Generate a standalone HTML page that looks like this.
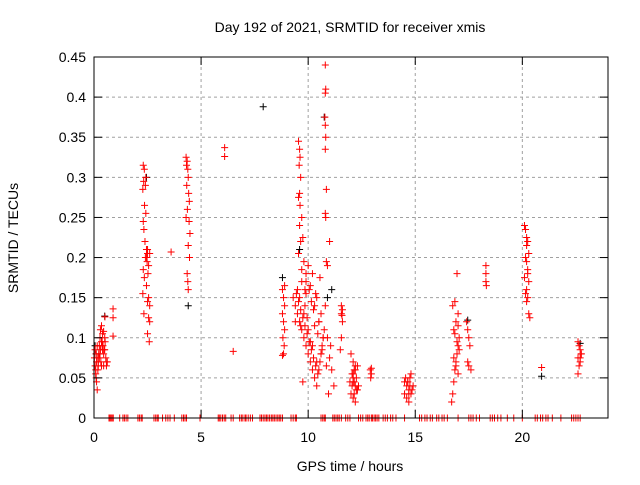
<!DOCTYPE html>
<html><head><meta charset="utf-8"><style>
body{margin:0;background:#fff}
svg text{font-family:"Liberation Sans",sans-serif;font-size:14px;fill:#000}
</style></head><body>
<svg id="chart" width="640" height="480" xmlns="http://www.w3.org/2000/svg">
<rect x="0" y="0" width="640" height="480" fill="#fff"/>
<g id="grid"></g>
<g id="marks"></g>
<g id="axes"></g>
<text x="350" y="32" text-anchor="middle">Day 192 of 2021, SRMTID for receiver xmis</text>
<text x="350" y="471" text-anchor="middle">GPS time / hours</text>
<text transform="translate(18,238) rotate(-90)" text-anchor="middle">SRMTID / TECUs</text>
</svg>
<script>
const xTicks=[0,5,10,15,20];
const yTicks=[0,0.05,0.1,0.15,0.2,0.25,0.3,0.35,0.4,0.45];
const yTickLabels=["0","0.05","0.1","0.15","0.2","0.25","0.3","0.35","0.4","0.45"];
const redT=[0.02,0.05,0.08,0.1,0.12,0.15,0.18,0.2,0.22,0.25,0.28,0.3,0.32,0.35,0.38,0.4,0.42,0.45,0.48,0.5,0.52,0.55,0.58,0.6,0.62,0.1,0.15,0.2,0.05,0.12,0.25,0.3,0.35,0.4,0.45,0.5,0.08,0.18,0.28,0.38,0.35,0.45,0.51,0.89,0.89,0.89,
2.3,2.35,2.32,2.4,2.28,2.36,2.42,2.3,2.33,2.38,2.45,2.5,2.4,2.48,2.55,2.3,2.52,2.35,2.45,2.28,2.55,2.5,2.6,2.33,2.55,2.6,2.5,2.58,2.6,2.45,2.5,2.42,3.6,
4.3,4.35,4.32,4.38,4.4,4.33,4.42,4.45,4.36,4.3,4.44,4.48,4.4,4.46,4.35,4.38,4.4,6.1,6.1,6.5,
8.8,8.85,8.9,8.8,8.85,8.9,8.82,8.88,8.85,8.8,8.9,
9.55,9.6,9.62,9.58,9.65,9.6,9.55,9.62,9.7,9.6,9.75,9.65,9.55,9.8,9.7,9.9,9.85,
9.3,9.4,9.5,9.6,9.7,9.8,9.9,10.0,10.1,10.2,10.3,10.4,10.5,10.6,10.7,9.45,9.55,9.65,9.75,9.85,9.95,10.05,10.15,10.25,10.35,10.45,10.55,10.65,10.75,9.5,9.7,9.9,10.1,10.3,10.5,10.7,9.6,9.8,10.0,10.2,10.4,10.6,9.4,9.65,9.85,10.05,10.25,10.45,10.65,10.85,9.75,9.95,10.15,10.35,10.55,10.0,10.2,10.4,10.6,10.3,10.5,10.1,9.9,10.8,10.9,11.0,11.1,11.2,10.95,11.05,
10.8,10.82,10.8,10.78,10.8,10.82,10.8,10.85,10.8,10.82,10.85,10.9,11.0,
11.55,11.6,11.55,11.58,11.6,11.55,11.5,
12.0,12.1,12.2,12.15,12.05,12.25,12.1,12.2,12.3,12.0,12.15,12.1,12.2,12.05,12.25,12.1,12.3,12.15,12.2,12.1,11.95,12.35,12.9,12.95,12.92,12.95,
14.5,14.6,14.7,14.8,14.55,14.65,14.75,14.85,14.6,14.7,14.8,14.5,14.9,14.65,14.75,14.7,
16.7,16.75,16.8,16.85,16.9,16.95,17.0,17.05,16.8,16.9,17.0,16.75,16.85,16.95,17.05,16.8,16.9,17.0,16.85,16.95,17.0,
17.4,17.45,17.5,17.55,17.45,17.5,17.6,18.3,18.3,18.3,18.32,
20.1,20.15,20.2,20.25,20.3,20.15,20.2,20.25,20.1,20.3,20.2,20.15,20.25,20.2,20.3,20.35,20.2,20.25,20.9,
22.6,22.65,22.7,22.75,22.6,22.7,22.65,22.75,22.7,22.6];
const redV=[0.075,0.065,0.055,0.05,0.045,0.035,0.06,0.07,0.08,0.09,0.1,0.085,0.07,0.065,0.095,0.105,0.09,0.08,0.085,0.1,0.095,0.075,0.065,0.07,0.07,0.08,0.09,0.065,0.085,0.07,0.075,0.11,0.095,0.085,0.065,0.085,0.06,0.075,0.08,0.09,0.115,0.108,0.126,0.136,0.125,0.102,
0.315,0.31,0.295,0.29,0.285,0.265,0.255,0.245,0.235,0.22,0.21,0.205,0.2,0.195,0.19,0.185,0.18,0.175,0.165,0.155,0.15,0.145,0.14,0.13,0.125,0.12,0.105,0.095,0.205,0.2,0.21,0.3,0.207,
0.325,0.32,0.315,0.31,0.3,0.29,0.28,0.27,0.26,0.25,0.245,0.23,0.215,0.2,0.18,0.17,0.16,0.337,0.326,0.083,
0.16,0.15,0.14,0.13,0.12,0.11,0.1,0.09,0.08,0.078,0.165,
0.345,0.335,0.325,0.315,0.3,0.28,0.275,0.265,0.25,0.24,0.225,0.22,0.205,0.195,0.185,0.17,0.16,
0.15,0.14,0.13,0.12,0.11,0.1,0.09,0.08,0.07,0.06,0.05,0.04,0.06,0.08,0.1,0.155,0.145,0.135,0.125,0.115,0.105,0.095,0.085,0.075,0.065,0.055,0.07,0.09,0.11,0.16,0.17,0.18,0.165,0.14,0.12,0.1,0.15,0.13,0.11,0.09,0.07,0.08,0.12,0.115,0.14,0.16,0.135,0.105,0.085,0.065,0.045,0.125,0.145,0.155,0.175,0.19,0.18,0.15,0.13,0.115,0.12,0.095,0.155,0.14,0.1,0.075,0.06,0.04,0.03,0.09,
0.44,0.41,0.405,0.375,0.365,0.35,0.335,0.285,0.255,0.25,0.195,0.19,0.22,
0.14,0.135,0.13,0.128,0.12,0.1,0.085,
0.08,0.07,0.065,0.06,0.055,0.05,0.045,0.04,0.035,0.03,0.045,0.055,0.06,0.04,0.035,0.05,0.065,0.03,0.02,0.025,0.045,0.04,0.06,0.055,0.05,0.062,
0.045,0.04,0.035,0.03,0.05,0.045,0.04,0.035,0.025,0.02,0.055,0.03,0.04,0.045,0.05,0.03,
0.02,0.03,0.045,0.06,0.07,0.08,0.09,0.1,0.11,0.12,0.13,0.14,0.105,0.095,0.085,0.075,0.065,0.055,0.145,0.18,0.115,
0.12,0.11,0.1,0.09,0.07,0.065,0.06,0.19,0.18,0.17,0.165,
0.24,0.235,0.225,0.22,0.205,0.2,0.195,0.185,0.175,0.17,0.16,0.155,0.15,0.145,0.13,0.125,0.215,0.18,0.063,
0.095,0.09,0.085,0.08,0.075,0.07,0.065,0.08,0.075,0.055];
const blackT=[0.05,0.1,0.5,2.45,4.4,7.9,8.8,9.6,10.75,10.9,11.1,17.45,20.9,22.7];
const blackV=[0.09,0.08,0.127,0.3,0.14,0.388,0.175,0.21,0.375,0.15,0.16,0.122,0.052,0.093];
const zeroT=[0.7,0.75,0.8,0.85,0.9,1.2,1.35,1.42,1.5,1.58,2.05,2.12,2.2,2.25,2.8,2.88,2.95,3.0,3.2,3.35,3.45,3.55,3.75,4.1,4.18,4.25,4.32,4.95,5.8,5.85,5.92,6.0,6.08,6.15,6.4,6.5,6.8,6.88,6.95,7.05,7.1,7.2,7.3,7.4,7.75,7.82,7.9,7.98,8.05,8.12,8.2,8.28,8.35,8.42,8.5,8.58,8.65,8.72,8.8,9.2,9.3,9.4,9.45,10.6,10.68,10.75,10.8,11.15,11.22,11.3,11.38,11.45,11.55,11.75,11.85,11.95,12.35,12.45,12.55,12.7,12.78,12.85,12.95,13.0,13.08,13.15,13.22,13.3,13.5,13.6,13.7,13.85,13.95,14.1,14.5,15.2,15.3,15.45,15.55,15.7,15.8,16.0,16.1,16.25,16.35,16.5,17.0,17.5,17.6,17.7,17.85,18.0,18.5,18.6,18.7,18.85,19.0,19.3,19.6,20.0,20.6,20.7,20.85,20.95,21.1,21.2,21.4,21.8,22.3,22.4,22.5,22.6,22.7];
const X0=94,X1=608,Y0=418,Y1=57;
const xs=t=>X0+(t/24)*(X1-X0);
const ys=v=>Y0-(v/0.45)*(Y0-Y1);
const NS="http://www.w3.org/2000/svg";
function mk(tag,attrs,parent){const e=document.createElementNS(NS,tag);for(const k in attrs)e.setAttribute(k,attrs[k]);parent.appendChild(e);return e;}
const grid=document.getElementById('grid'),marks=document.getElementById('marks'),axes=document.getElementById('axes');
yTicks.forEach((v,i)=>{const y=ys(v);
 if(i>0&&i<yTicks.length-1){const g=mk('line',{x1:X0,x2:X1,y1:y,y2:y,stroke:'#a0a0a0','stroke-dasharray':'3,3','stroke-width':1},grid);
 
 }
 mk('line',{x1:X0,x2:X0+8,y1:y,y2:y,stroke:'#000'},axes);
 mk('line',{x1:X1,x2:X1-8,y1:y,y2:y,stroke:'#000'},axes);
 const t=mk('text',{x:X0-8,y:y+5,'text-anchor':'end'},axes);t.textContent=yTickLabels[i];
 
 
});
xTicks.forEach(h=>{const x=xs(h);
 if(h>0){const g=mk('line',{x1:x,x2:x,y1:Y0,y2:Y1,stroke:'#a0a0a0','stroke-dasharray':'3,3','stroke-width':1},grid);
 
 }
 mk('line',{x1:x,x2:x,y1:Y0,y2:Y0-8,stroke:'#000'},axes);
 mk('line',{x1:x,x2:x,y1:Y1,y2:Y1+8,stroke:'#000'},axes);
 const t=mk('text',{x:x,y:Y0+24,'text-anchor':'middle'},axes);t.textContent=String(h);
 
 
});
const frame=mk('rect',{x:X0,y:Y1,width:X1-X0,height:Y0-Y1,fill:'none',stroke:'#000','stroke-width':1},axes);


function plus(t,v,color,name){const x=xs(t),y=ys(v);
 const p=mk('path',{d:`M${x-3.5},${y}H${x+3.5}M${x},${y-3.5}V${y+3.5}`,stroke:color,'stroke-width':1,fill:'none'},marks);
 
 }
blackT.forEach((t,i)=>plus(t,blackV[i],'#000000','black-point'));
redT.forEach((t,i)=>plus(t,redV[i],'#ff0000','red-point'));
zeroT.forEach(t=>plus(t,0,'#ff0000','zero-point'));
</script>
</body></html>
